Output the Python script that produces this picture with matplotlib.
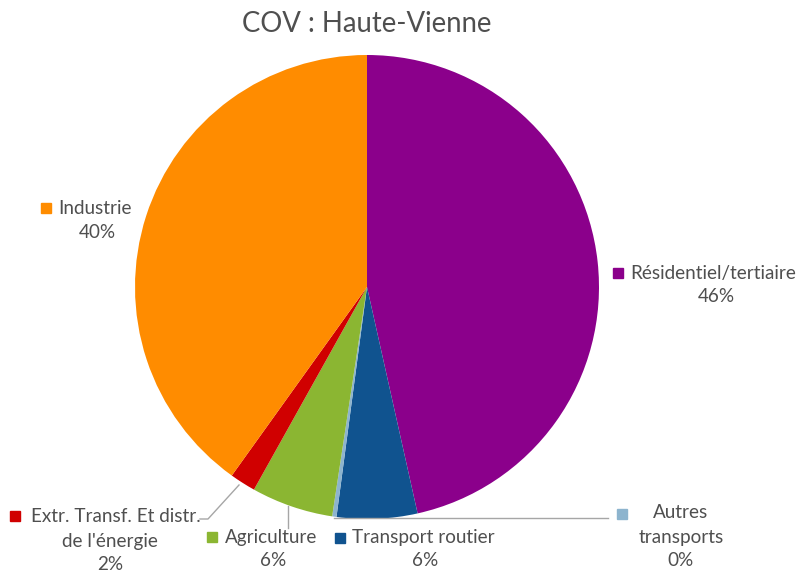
import matplotlib
matplotlib.use("Agg")
import matplotlib.pyplot as plt
from matplotlib.patches import Rectangle

title = "COV : Haute-Vienne"
categories = ["Résidentiel/tertiaire", "Transport routier", "Autres transports",
              "Agriculture", "Extr. Transf. Et distr. de l'énergie", "Industrie"]
values = [46.5, 5.6, 0.3, 5.7, 1.8, 40.1]
pct_labels = ["46%", "6%", "0%", "6%", "2%", "40%"]
colors = ["#8B008B", "#10538F", "#8DB4CE", "#8BB632", "#D00000", "#FF8C00"]

W, H = 802, 572
fig = plt.figure(figsize=(W / 100, H / 100), dpi=100)
ax = fig.add_axes([0, 0, 1, 1])
ax.set_xlim(0, W)
ax.set_ylim(0, H)
ax.set_aspect("equal")
ax.axis("off")

cx, cy, r = 367, H - 287, 232
ax.pie(values, colors=colors, startangle=90, counterclock=False,
       center=(cx, cy), radius=r, frame=True,
       wedgeprops=dict(linewidth=0))
ax.set_xlim(0, W)
ax.set_ylim(0, H)
ax.axis("off")

FONT = "Lato"
TC = "#4F4F4F"
fs = 13.6

def Y(y):
    return H - y

def label(sq_x, lines_xy, col, sq_y):
    ax.add_patch(Rectangle((sq_x, Y(sq_y) - 5), 10, 10, color=col, zorder=5))
    for (x, y, s, ha) in lines_xy:
        ax.text(x, Y(y), s, ha=ha, va="center", fontsize=fs, color=TC, family=FONT)

ax.text(367, Y(24), title, ha="center", va="center", fontsize=19.8, color=TC, family=FONT)

# Résidentiel/tertiaire
label(613, [(630, 273, categories[0], "left"), (716, 297, pct_labels[0], "center")], colors[0], 273)
# Industrie
label(41, [(58, 208, categories[5], "left"), (97, 232, pct_labels[5], "center")], colors[5], 208)
# Extr
label(10, [(31, 516, "Extr. Transf. Et distr.", "left"), (110, 541, "de l'énergie", "center"),
           (110, 565, pct_labels[4], "center")], colors[4], 516)
# Agriculture
label(207, [(225, 537, categories[3], "left"), (273, 561, pct_labels[3], "center")], colors[3], 537)
# Transport routier
label(335, [(352, 538, categories[1], "left"), (425, 561, pct_labels[1], "center")], colors[1], 538)
# Autres transports
label(617, [(681, 513, "Autres", "center"), (681, 537, "transports", "center"),
            (681, 561, pct_labels[2], "center")], colors[2], 514)

# leader lines
lc = "#A6A6A6"
ax.plot([200, 208, 239], [Y(519), Y(519), Y(485)], color=lc, lw=1)
ax.plot([288, 288], [Y(506), Y(528)], color=lc, lw=1)
ax.plot([334, 608], [Y(518), Y(518)], color=lc, lw=1)

fig.savefig("out.png", dpi=100)
